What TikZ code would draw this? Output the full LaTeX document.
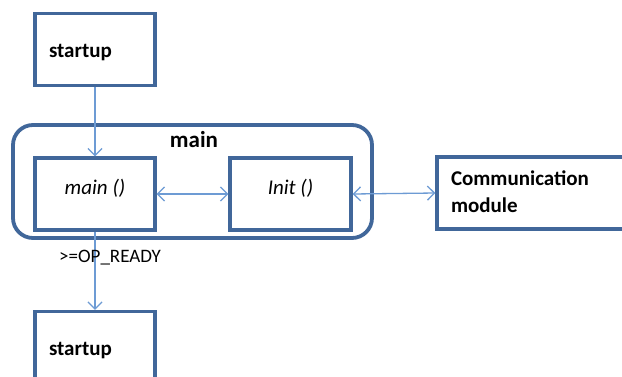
\documentclass[tikz,border=0pt]{standalone}
\usepackage{fontspec}
\setmainfont{Carlito}
\usetikzlibrary{arrows.meta}
\definecolor{boxblue}{HTML}{41679A}
\definecolor{arrblue}{HTML}{6D9BD4}
\begin{document}
\begin{tikzpicture}[x=1pt,y=-1pt,
  box/.style={draw=boxblue, line width=3.3pt, rectangle, minimum width=120pt, minimum height=72pt, inner sep=0pt, font=\fontsize{21}{24}\selectfont},
  lbox/.style={box, text width=92pt, inner xsep=14pt, align=left, font=\bfseries\fontsize{21}{24}\selectfont},
  tip/.tip={Straight Barb[length=7pt,width=14pt]},
  arr/.style={draw=arrblue, line width=1.3pt, -tip},
  darr/.style={draw=arrblue, line width=1.3pt, tip-tip}
]
\useasboundingbox (0,0) rectangle (622,376);
\clip (0,0) rectangle (622,376);
\fill[white] (0,0) rectangle (622,376);
% container
\node[draw=boxblue, line width=3.8pt, rounded corners=20pt, minimum width=359pt, minimum height=113pt, inner sep=0pt] (cont) at (192.5,181.5) {};
\node[font=\bfseries\fontsize{23}{26}\selectfont] (contlabel) at (194,139.5) {main};
% boxes
\node[lbox] (start1) at (95,49.5) {\raisebox{-8pt}[0pt][0pt]{startup}};
\node[box, font=\itshape\fontsize{21}{24}\selectfont] (mainf) at (95,194) {\raisebox{0pt}[0pt][0pt]{main ()}};
\node[box, minimum width=121pt, font=\itshape\fontsize{21}{24}\selectfont] (init) at (290.5,194) {\raisebox{0pt}[0pt][0pt]{Init ()}};
\node[box, minimum width=200pt, text width=172pt, inner xsep=14pt, align=left, font=\bfseries\fontsize{21}{27}\selectfont] (comm) at (537,193) {\raisebox{2pt}{Communication}\\\raisebox{2pt}{module}};
\node[lbox] (start2) at (95,347.5) {\raisebox{-8pt}[0pt][0pt]{startup}};
% connectors
\draw[arr] (start1.south) -- (mainf.north);
\draw[darr] (mainf.east) -- (init.west);
\draw[darr] (init.east) -- (comm.west);
\draw[arr] (mainf.south) -- (start2.north);
\node[anchor=west, inner sep=0pt, font=\fontsize{19}{22}\selectfont] (ready) at (59,258) {>=OP\_READY};
\end{tikzpicture}
\end{document}
